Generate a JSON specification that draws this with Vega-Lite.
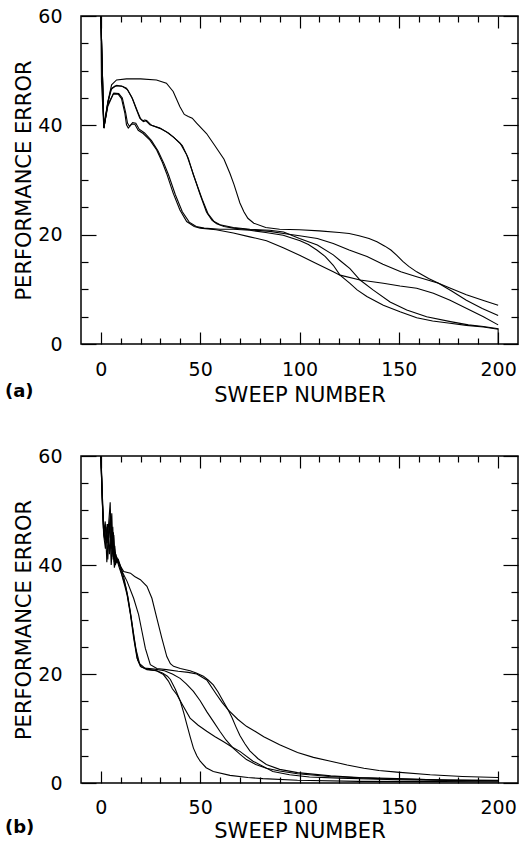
{
  "$schema": "https://vega.github.io/schema/vega-lite/v6.json",
  "padding": {"top": 6, "left": 4, "right": 5, "bottom": 2},
  "spacing": 40,
  "config": {
    "view": {"stroke": "black", "strokeWidth": 1.5},
    "axis": {"domain": false, "grid": false, "tickColor": "black", "tickWidth": 1.2, "labelFont": "DejaVu Sans", "labelFontSize": 19, "labelColor": "black", "titleFont": "DejaVu Sans", "titleFontSize": 21, "titleFontWeight": "normal", "titleColor": "black", "labelOverlap": false, "labelFlush": false},
    "title": {"font": "DejaVu Sans", "fontSize": 18, "fontWeight": "bold", "color": "black"},
    "line": {"color": "black", "strokeWidth": 1.1}
  },
  "datasets": {
    "a": [
      {"s":"P","x":0,"y":60},{"s":"P","x":1.5,"y":39.5},{"s":"P","x":3.7,"y":44.6},{"s":"P","x":5.4,"y":47.4},{"s":"P","x":7.9,"y":48.3},{"s":"P","x":12.9,"y":48.5},{"s":"P","x":20,"y":48.5},{"s":"P","x":28,"y":48.3},{"s":"P","x":33,"y":47.7},{"s":"P","x":36.4,"y":46.2},{"s":"P","x":39.8,"y":43.4},{"s":"P","x":42,"y":42},{"s":"P","x":44,"y":41.6},{"s":"P","x":46,"y":41.3},{"s":"P","x":48.2,"y":40.4},{"s":"P","x":53.2,"y":38.5},{"s":"P","x":57,"y":36.5},{"s":"P","x":62,"y":33.8},{"s":"P","x":65,"y":31.2},{"s":"P","x":67,"y":29.2},{"s":"P","x":70,"y":25.8},{"s":"P","x":72,"y":24.2},{"s":"P","x":74,"y":23.0},{"s":"P","x":77,"y":22.1},{"s":"P","x":83,"y":21.3},{"s":"P","x":90,"y":21.0},{"s":"P","x":100,"y":20.9},{"s":"P","x":110,"y":20.7},{"s":"P","x":120,"y":20.4},{"s":"P","x":125,"y":20.2},{"s":"P","x":130,"y":19.8},{"s":"P","x":135,"y":19.3},{"s":"P","x":139,"y":18.7},{"s":"P","x":143,"y":17.9},{"s":"P","x":146,"y":17.2},{"s":"P","x":149,"y":16.2},{"s":"P","x":152,"y":15.1},{"s":"P","x":155,"y":14.2},{"s":"P","x":159,"y":13.2},{"s":"P","x":165,"y":12.0},{"s":"P","x":170,"y":11.1},{"s":"P","x":177,"y":9.6},{"s":"P","x":184,"y":8.0},{"s":"P","x":192,"y":6.5},{"s":"P","x":200,"y":5.2},
      {"s":"Q","x":0,"y":60},{"s":"Q","x":0.3,"y":48},{"s":"Q","x":1.5,"y":39.5},{"s":"Q","x":3.5,"y":44},{"s":"Q","x":5,"y":46.5},{"s":"Q","x":7.1,"y":47.2},{"s":"Q","x":10.4,"y":47.2},{"s":"Q","x":12.9,"y":46.8},{"s":"Q","x":15.5,"y":45.2},{"s":"Q","x":18,"y":42.8},{"s":"Q","x":19.6,"y":41.3},{"s":"Q","x":21,"y":40.8},{"s":"Q","x":22.2,"y":41.0},{"s":"Q","x":24.7,"y":40.1},{"s":"Q","x":29.7,"y":39.5},{"s":"Q","x":33,"y":38.8},{"s":"Q","x":36.4,"y":37.9},{"s":"Q","x":40,"y":36.7},{"s":"Q","x":43.2,"y":34.6},{"s":"Q","x":45.7,"y":32},{"s":"Q","x":48,"y":29.5},{"s":"Q","x":50,"y":27.3},{"s":"Q","x":53.2,"y":24.1},{"s":"Q","x":56,"y":22.6},{"s":"Q","x":58.3,"y":22.0},{"s":"Q","x":62,"y":21.5},{"s":"Q","x":66.7,"y":21.2},{"s":"Q","x":75,"y":20.9},{"s":"Q","x":85,"y":20.6},{"s":"Q","x":92,"y":20.2},{"s":"Q","x":100,"y":19.8},{"s":"Q","x":109,"y":19.3},{"s":"Q","x":117,"y":18.4},{"s":"Q","x":125,"y":17.2},{"s":"Q","x":134,"y":16.0},{"s":"Q","x":142,"y":14.6},{"s":"Q","x":151,"y":13.2},{"s":"Q","x":159,"y":12.3},{"s":"Q","x":170,"y":11.1},{"s":"Q","x":176,"y":10.2},{"s":"Q","x":184,"y":9.0},{"s":"Q","x":193,"y":7.9},{"s":"Q","x":200,"y":7.1},
      {"s":"T","x":0,"y":60},{"s":"T","x":1.5,"y":39.8},{"s":"T","x":3.5,"y":44.3},{"s":"T","x":5.5,"y":46.8},{"s":"T","x":8,"y":47.3},{"s":"T","x":11,"y":47.1},{"s":"T","x":13.5,"y":46.5},{"s":"T","x":16,"y":44.8},{"s":"T","x":18.5,"y":42.5},{"s":"T","x":20,"y":41.2},{"s":"T","x":21.5,"y":40.7},{"s":"T","x":23,"y":40.9},{"s":"T","x":25.5,"y":40.0},{"s":"T","x":30,"y":39.4},{"s":"T","x":34,"y":38.6},{"s":"T","x":37,"y":37.7},{"s":"T","x":41,"y":36.3},{"s":"T","x":44,"y":34.0},{"s":"T","x":46.5,"y":31},{"s":"T","x":49,"y":28.5},{"s":"T","x":51,"y":26.5},{"s":"T","x":54,"y":23.8},{"s":"T","x":57,"y":22.4},{"s":"T","x":60,"y":21.8},{"s":"T","x":66.7,"y":21.3},{"s":"T","x":75,"y":21.0},{"s":"T","x":85,"y":20.8},{"s":"T","x":92,"y":20.5},{"s":"T","x":100,"y":19.3},{"s":"T","x":109,"y":18.1},{"s":"T","x":117,"y":16.3},{"s":"T","x":121,"y":15.1},{"s":"T","x":125.4,"y":13.8},{"s":"T","x":130.5,"y":11.7},{"s":"T","x":137,"y":9.9},{"s":"T","x":145.6,"y":7.7},{"s":"T","x":154,"y":6.2},{"s":"T","x":164,"y":5.0},{"s":"T","x":176,"y":4.1},{"s":"T","x":185,"y":3.5},{"s":"T","x":192.6,"y":3.2},{"s":"T","x":200,"y":2.8},{"s":"T","x":200,"y":0},
      {"s":"R","x":0,"y":60},{"s":"R","x":1.5,"y":39.5},{"s":"R","x":3.5,"y":43.5},{"s":"R","x":6.2,"y":45.7},{"s":"R","x":8.7,"y":45.7},{"s":"R","x":10.4,"y":44.9},{"s":"R","x":12.1,"y":42.2},{"s":"R","x":12.9,"y":40.1},{"s":"R","x":13.8,"y":39.5},{"s":"R","x":15.5,"y":40.2},{"s":"R","x":17.1,"y":40.2},{"s":"R","x":18.8,"y":39.1},{"s":"R","x":21.3,"y":38.5},{"s":"R","x":24.7,"y":37.3},{"s":"R","x":28.1,"y":35.5},{"s":"R","x":31,"y":33.2},{"s":"R","x":33.1,"y":31.2},{"s":"R","x":36.4,"y":27.6},{"s":"R","x":39.8,"y":24.5},{"s":"R","x":43.2,"y":22.4},{"s":"R","x":47,"y":21.5},{"s":"R","x":50,"y":21.2},{"s":"R","x":58,"y":20.9},{"s":"R","x":66.7,"y":20.3},{"s":"R","x":75,"y":19.6},{"s":"R","x":83.4,"y":18.9},{"s":"R","x":91.8,"y":17.6},{"s":"R","x":100.3,"y":16.2},{"s":"R","x":108.7,"y":14.7},{"s":"R","x":117,"y":13.2},{"s":"R","x":120.4,"y":12.6},{"s":"R","x":130.5,"y":11.7},{"s":"R","x":142.2,"y":11.1},{"s":"R","x":150.6,"y":10.6},{"s":"R","x":159,"y":10.2},{"s":"R","x":167.4,"y":9.3},{"s":"R","x":175.8,"y":8.0},{"s":"R","x":184.2,"y":6.5},{"s":"R","x":192.6,"y":5.0},{"s":"R","x":200,"y":3.5},
      {"s":"S","x":0,"y":60},{"s":"S","x":1.5,"y":39.5},{"s":"S","x":3.5,"y":43.8},{"s":"S","x":6.5,"y":45.9},{"s":"S","x":9,"y":45.8},{"s":"S","x":10.8,"y":45.0},{"s":"S","x":12.5,"y":42.3},{"s":"S","x":13.4,"y":40.4},{"s":"S","x":14.4,"y":39.8},{"s":"S","x":16,"y":40.5},{"s":"S","x":17.6,"y":40.4},{"s":"S","x":19.3,"y":39.3},{"s":"S","x":22,"y":38.6},{"s":"S","x":25.5,"y":37.2},{"s":"S","x":28.8,"y":35.3},{"s":"S","x":31.8,"y":33},{"s":"S","x":34,"y":31},{"s":"S","x":37.5,"y":27.3},{"s":"S","x":41,"y":24.2},{"s":"S","x":44.5,"y":22.3},{"s":"S","x":48,"y":21.5},{"s":"S","x":52,"y":21.2},{"s":"S","x":60,"y":21.0},{"s":"S","x":66.7,"y":21.0},{"s":"S","x":75,"y":20.8},{"s":"S","x":83,"y":20.4},{"s":"S","x":91.8,"y":19.9},{"s":"S","x":100.3,"y":18.9},{"s":"S","x":104.5,"y":18.2},{"s":"S","x":108.7,"y":17.2},{"s":"S","x":113,"y":16.0},{"s":"S","x":117,"y":14.4},{"s":"S","x":120.4,"y":12.6},{"s":"S","x":125.4,"y":11.1},{"s":"S","x":129,"y":9.9},{"s":"S","x":133.9,"y":8.7},{"s":"S","x":142.2,"y":7.1},{"s":"S","x":150.6,"y":5.9},{"s":"S","x":159,"y":4.8},{"s":"S","x":167,"y":4.2},{"s":"S","x":175.8,"y":3.8},{"s":"S","x":184,"y":3.4},{"s":"S","x":192.6,"y":3.1},{"s":"S","x":200,"y":2.7}
    ],
    "b": [
      {"s":"U","x":0,"y":60},{"s":"U","x":0.5,"y":56},{"s":"U","x":1,"y":50},{"s":"U","x":1.8,"y":45},{"s":"U","x":2.5,"y":47.5},{"s":"U","x":3.2,"y":44},{"s":"U","x":4,"y":48},{"s":"U","x":4.7,"y":51.5},{"s":"U","x":5.3,"y":43},{"s":"U","x":6,"y":47},{"s":"U","x":6.7,"y":40.5},{"s":"U","x":7.5,"y":42},{"s":"U","x":8.5,"y":40.8},{"s":"U","x":9.5,"y":40},{"s":"U","x":11.5,"y":38.8},{"s":"U","x":14.9,"y":38.5},{"s":"U","x":17,"y":37.9},{"s":"U","x":19.9,"y":37.3},{"s":"U","x":23.2,"y":36.1},{"s":"U","x":25.7,"y":33.9},{"s":"U","x":28.2,"y":30.2},{"s":"U","x":30.7,"y":26.6},{"s":"U","x":33.2,"y":23.2},{"s":"U","x":35,"y":21.9},{"s":"U","x":36.6,"y":21.4},{"s":"U","x":40,"y":21.0},{"s":"U","x":44.9,"y":20.6},{"s":"U","x":48,"y":20.2},{"s":"U","x":51.6,"y":19.6},{"s":"U","x":54,"y":18.9},{"s":"U","x":56.6,"y":18.0},{"s":"U","x":59,"y":16.7},{"s":"U","x":61.6,"y":15.0},{"s":"U","x":64.1,"y":13.4},{"s":"U","x":66,"y":12.0},{"s":"U","x":68,"y":10.3},{"s":"U","x":70,"y":8.7},{"s":"U","x":72.5,"y":7.2},{"s":"U","x":75,"y":5.9},{"s":"U","x":79,"y":4.5},{"s":"U","x":83.3,"y":3.4},{"s":"U","x":90,"y":2.5},{"s":"U","x":99,"y":1.9},{"s":"U","x":115.7,"y":1.3},{"s":"U","x":130,"y":1.0},{"s":"U","x":149,"y":0.8},{"s":"U","x":175,"y":0.5},{"s":"U","x":200,"y":0.4},
      {"s":"H","x":0,"y":60},{"s":"H","x":0.5,"y":54},{"s":"H","x":1.2,"y":47},{"s":"H","x":2,"y":44.5},{"s":"H","x":2.8,"y":46},{"s":"H","x":3.5,"y":41},{"s":"H","x":4.2,"y":46.5},{"s":"H","x":5,"y":49},{"s":"H","x":5.8,"y":42},{"s":"H","x":6.5,"y":45.5},{"s":"H","x":7.3,"y":40},{"s":"H","x":8.2,"y":41.2},{"s":"H","x":9.5,"y":40.2},{"s":"H","x":11,"y":38.6},{"s":"H","x":13.2,"y":37.0},{"s":"H","x":16.5,"y":33.9},{"s":"H","x":19,"y":30.9},{"s":"H","x":20.7,"y":27.8},{"s":"H","x":22.4,"y":24.7},{"s":"H","x":24.9,"y":21.7},{"s":"H","x":28.2,"y":21.0},{"s":"H","x":33,"y":20.8},{"s":"H","x":38.9,"y":20.5},{"s":"H","x":44,"y":20.3},{"s":"H","x":48.3,"y":20.0},{"s":"H","x":53.3,"y":18.9},{"s":"H","x":58.3,"y":16.2},{"s":"H","x":61,"y":14.8},{"s":"H","x":64.1,"y":13.4},{"s":"H","x":68.9,"y":11.7},{"s":"H","x":73.3,"y":10.4},{"s":"H","x":78,"y":9.4},{"s":"H","x":82,"y":8.5},{"s":"H","x":90,"y":7.0},{"s":"H","x":99,"y":5.6},{"s":"H","x":107,"y":4.7},{"s":"H","x":115.7,"y":4.0},{"s":"H","x":124,"y":3.3},{"s":"H","x":132.4,"y":2.7},{"s":"H","x":140,"y":2.3},{"s":"H","x":149,"y":2.0},{"s":"H","x":165.8,"y":1.5},{"s":"H","x":182,"y":1.2},{"s":"H","x":200,"y":1.0},
      {"s":"W1","x":0,"y":60},{"s":"W1","x":0.7,"y":52},{"s":"W1","x":1.5,"y":46},{"s":"W1","x":2.2,"y":48},{"s":"W1","x":3,"y":40.5},{"s":"W1","x":3.8,"y":45.5},{"s":"W1","x":4.5,"y":47},{"s":"W1","x":5.2,"y":40},{"s":"W1","x":6,"y":44},{"s":"W1","x":6.8,"y":39.5},{"s":"W1","x":7.8,"y":41.5},{"s":"W1","x":9,"y":39.8},{"s":"W1","x":10.5,"y":38.2},{"s":"W1","x":12,"y":36.2},{"s":"W1","x":13.2,"y":34.5},{"s":"W1","x":14.9,"y":30.9},{"s":"W1","x":16.5,"y":26.6},{"s":"W1","x":18.2,"y":22.9},{"s":"W1","x":19.9,"y":21.4},{"s":"W1","x":23.2,"y":20.8},{"s":"W1","x":28,"y":20.6},{"s":"W1","x":31,"y":20.2},{"s":"W1","x":33.5,"y":19.6},{"s":"W1","x":35,"y":19.0},{"s":"W1","x":37.5,"y":17.2},{"s":"W1","x":40,"y":15.0},{"s":"W1","x":41.7,"y":12.9},{"s":"W1","x":43.3,"y":10.7},{"s":"W1","x":45,"y":8.4},{"s":"W1","x":46.6,"y":6.4},{"s":"W1","x":48.3,"y":5.0},{"s":"W1","x":50,"y":4.0},{"s":"W1","x":53,"y":2.8},{"s":"W1","x":56.6,"y":2.1},{"s":"W1","x":65,"y":1.4},{"s":"W1","x":74,"y":1.0},{"s":"W1","x":81.6,"y":0.8},{"s":"W1","x":99,"y":0.5},{"s":"W1","x":130,"y":0.3},{"s":"W1","x":170,"y":0.25},{"s":"W1","x":200,"y":0.2},
      {"s":"W2","x":0,"y":60},{"s":"W2","x":0.6,"y":53},{"s":"W2","x":1.4,"y":45.5},{"s":"W2","x":2.3,"y":43},{"s":"W2","x":3.1,"y":47},{"s":"W2","x":4,"y":45},{"s":"W2","x":4.8,"y":50},{"s":"W2","x":5.6,"y":41.5},{"s":"W2","x":6.3,"y":46},{"s":"W2","x":7.1,"y":40.2},{"s":"W2","x":8,"y":40.8},{"s":"W2","x":9.3,"y":40},{"s":"W2","x":10.8,"y":38},{"s":"W2","x":12.5,"y":36},{"s":"W2","x":13.6,"y":34.2},{"s":"W2","x":15.2,"y":30.6},{"s":"W2","x":16.8,"y":26.3},{"s":"W2","x":18.5,"y":22.6},{"s":"W2","x":20.3,"y":21.3},{"s":"W2","x":23.5,"y":20.9},{"s":"W2","x":28,"y":20.6},{"s":"W2","x":31.5,"y":19.9},{"s":"W2","x":34,"y":18.7},{"s":"W2","x":36,"y":17.3},{"s":"W2","x":38.3,"y":16.2},{"s":"W2","x":41,"y":14.4},{"s":"W2","x":44.9,"y":11.9},{"s":"W2","x":49,"y":10.6},{"s":"W2","x":53.3,"y":9.5},{"s":"W2","x":57.5,"y":8.5},{"s":"W2","x":61.6,"y":7.6},{"s":"W2","x":66,"y":6.6},{"s":"W2","x":70,"y":5.8},{"s":"W2","x":76.6,"y":4.0},{"s":"W2","x":86.6,"y":2.1},{"s":"W2","x":95,"y":1.5},{"s":"W2","x":105,"y":1.1},{"s":"W2","x":120,"y":0.9},{"s":"W2","x":149,"y":0.6},{"s":"W2","x":175,"y":0.45},{"s":"W2","x":200,"y":0.4},
      {"s":"W3","x":0,"y":60},{"s":"W3","x":0.5,"y":55},{"s":"W3","x":1.3,"y":47.5},{"s":"W3","x":2,"y":45.5},{"s":"W3","x":2.7,"y":44},{"s":"W3","x":3.4,"y":47.5},{"s":"W3","x":4.3,"y":42},{"s":"W3","x":5,"y":46},{"s":"W3","x":5.5,"y":49.5},{"s":"W3","x":6.2,"y":41},{"s":"W3","x":7,"y":43.5},{"s":"W3","x":7.8,"y":40.5},{"s":"W3","x":8.8,"y":41},{"s":"W3","x":10,"y":39.5},{"s":"W3","x":11.5,"y":37.8},{"s":"W3","x":13,"y":35.2},{"s":"W3","x":14.5,"y":32},{"s":"W3","x":16,"y":28.5},{"s":"W3","x":17.7,"y":24.5},{"s":"W3","x":19.5,"y":21.9},{"s":"W3","x":22,"y":21.1},{"s":"W3","x":27,"y":20.9},{"s":"W3","x":32,"y":20.6},{"s":"W3","x":36,"y":20.0},{"s":"W3","x":39.9,"y":19.2},{"s":"W3","x":43,"y":18.2},{"s":"W3","x":46.6,"y":16.8},{"s":"W3","x":50,"y":15.1},{"s":"W3","x":53.3,"y":13.1},{"s":"W3","x":56.6,"y":11.3},{"s":"W3","x":59.9,"y":9.5},{"s":"W3","x":63,"y":7.9},{"s":"W3","x":66.6,"y":6.4},{"s":"W3","x":70,"y":5.3},{"s":"W3","x":73.3,"y":4.3},{"s":"W3","x":78,"y":3.4},{"s":"W3","x":83.3,"y":2.7},{"s":"W3","x":90,"y":2.2},{"s":"W3","x":99,"y":1.7},{"s":"W3","x":115,"y":1.2},{"s":"W3","x":140,"y":0.8},{"s":"W3","x":170,"y":0.6},{"s":"W3","x":200,"y":0.5}
    ]
  },
  "vconcat": [
    {
      "width": 437, "height": 328,
      "data": {"name": "a"},
      "title": {"text": "(a)", "orient": "bottom", "anchor": "start", "frame": "group", "dx": -76, "offset": -22},
      "layer": [
        {
          "mark": {"type": "line", "clip": true},
          "encoding": {
            "x": {"field": "x", "type": "quantitative", "scale": {"domain": [-10, 210], "nice": false, "zero": false},
              "axis": {"orient": "bottom", "values": [0,50,100,150,200], "tickSize": 12, "offset": -12, "labelPadding": 16, "title": "SWEEP NUMBER", "titlePadding": 5}},
            "y": {"field": "y", "type": "quantitative", "scale": {"domain": [0, 60], "nice": false},
              "axis": {"orient": "left", "values": [0,20,40,60], "tickSize": 15, "offset": -15, "labelPadding": 19, "title": "PERFORMANCE ERROR", "titlePadding": 3}},
            "detail": {"field": "s", "type": "nominal"}
          }
        },
        {
          "mark": {"type": "line", "opacity": 0},
          "encoding": {
            "x": {"field": "x", "type": "quantitative", "axis": {"orient": "top", "values": [0,50,100,150,200], "tickSize": 12, "offset": -12, "labels": false, "title": null}},
            "y": {"field": "y", "type": "quantitative", "axis": {"orient": "right", "values": [0,20,40,60], "tickSize": 15, "offset": -15, "labels": false, "title": null}},
            "detail": {"field": "s", "type": "nominal"}
          }
        },
        {
          "mark": {"type": "line", "opacity": 0},
          "encoding": {
            "x": {"field": "x", "type": "quantitative", "axis": {"orient": "bottom", "values": [10,20,30,40,60,70,80,90,110,120,130,140,160,170,180,190], "tickSize": 6, "offset": -6, "labels": false, "title": null}},
            "y": {"field": "y", "type": "quantitative", "axis": {"orient": "left", "values": [5,10,15,25,30,35,45,50,55], "tickSize": 7, "offset": -7, "labels": false, "title": null}},
            "detail": {"field": "s", "type": "nominal"}
          }
        },
        {
          "mark": {"type": "line", "opacity": 0},
          "encoding": {
            "x": {"field": "x", "type": "quantitative", "axis": {"orient": "top", "values": [10,20,30,40,60,70,80,90,110,120,130,140,160,170,180,190], "tickSize": 6, "offset": -6, "labels": false, "title": null}},
            "y": {"field": "y", "type": "quantitative", "axis": {"orient": "right", "values": [5,10,15,25,30,35,45,50,55], "tickSize": 7, "offset": -7, "labels": false, "title": null}},
            "detail": {"field": "s", "type": "nominal"}
          }
        }
      ],
      "resolve": {"axis": {"x": "independent", "y": "independent"}}
    },
    {
      "width": 437, "height": 327,
      "data": {"name": "b"},
      "title": {"text": "(b)", "orient": "bottom", "anchor": "start", "frame": "group", "dx": -76, "offset": -22},
      "layer": [
        {
          "mark": {"type": "line", "clip": true},
          "encoding": {
            "x": {"field": "x", "type": "quantitative", "scale": {"domain": [-10, 210], "nice": false, "zero": false},
              "axis": {"orient": "bottom", "values": [0,50,100,150,200], "tickSize": 12, "offset": -12, "labelPadding": 15, "title": "SWEEP NUMBER", "titlePadding": 3}},
            "y": {"field": "y", "type": "quantitative", "scale": {"domain": [0, 60], "nice": false},
              "axis": {"orient": "left", "values": [0,20,40,60], "tickSize": 15, "offset": -15, "labelPadding": 19, "title": "PERFORMANCE ERROR", "titlePadding": 3}},
            "detail": {"field": "s", "type": "nominal"}
          }
        },
        {
          "mark": {"type": "line", "opacity": 0},
          "encoding": {
            "x": {"field": "x", "type": "quantitative", "axis": {"orient": "top", "values": [0,50,100,150,200], "tickSize": 12, "offset": -12, "labels": false, "title": null}},
            "y": {"field": "y", "type": "quantitative", "axis": {"orient": "right", "values": [0,20,40,60], "tickSize": 15, "offset": -15, "labels": false, "title": null}},
            "detail": {"field": "s", "type": "nominal"}
          }
        },
        {
          "mark": {"type": "line", "opacity": 0},
          "encoding": {
            "x": {"field": "x", "type": "quantitative", "axis": {"orient": "bottom", "values": [10,20,30,40,60,70,80,90,110,120,130,140,160,170,180,190], "tickSize": 6, "offset": -6, "labels": false, "title": null}},
            "y": {"field": "y", "type": "quantitative", "axis": {"orient": "left", "values": [5,10,15,25,30,35,45,50,55], "tickSize": 7, "offset": -7, "labels": false, "title": null}},
            "detail": {"field": "s", "type": "nominal"}
          }
        },
        {
          "mark": {"type": "line", "opacity": 0},
          "encoding": {
            "x": {"field": "x", "type": "quantitative", "axis": {"orient": "top", "values": [10,20,30,40,60,70,80,90,110,120,130,140,160,170,180,190], "tickSize": 6, "offset": -6, "labels": false, "title": null}},
            "y": {"field": "y", "type": "quantitative", "axis": {"orient": "right", "values": [5,10,15,25,30,35,45,50,55], "tickSize": 7, "offset": -7, "labels": false, "title": null}},
            "detail": {"field": "s", "type": "nominal"}
          }
        }
      ],
      "resolve": {"axis": {"x": "independent", "y": "independent"}}
    }
  ]
}
